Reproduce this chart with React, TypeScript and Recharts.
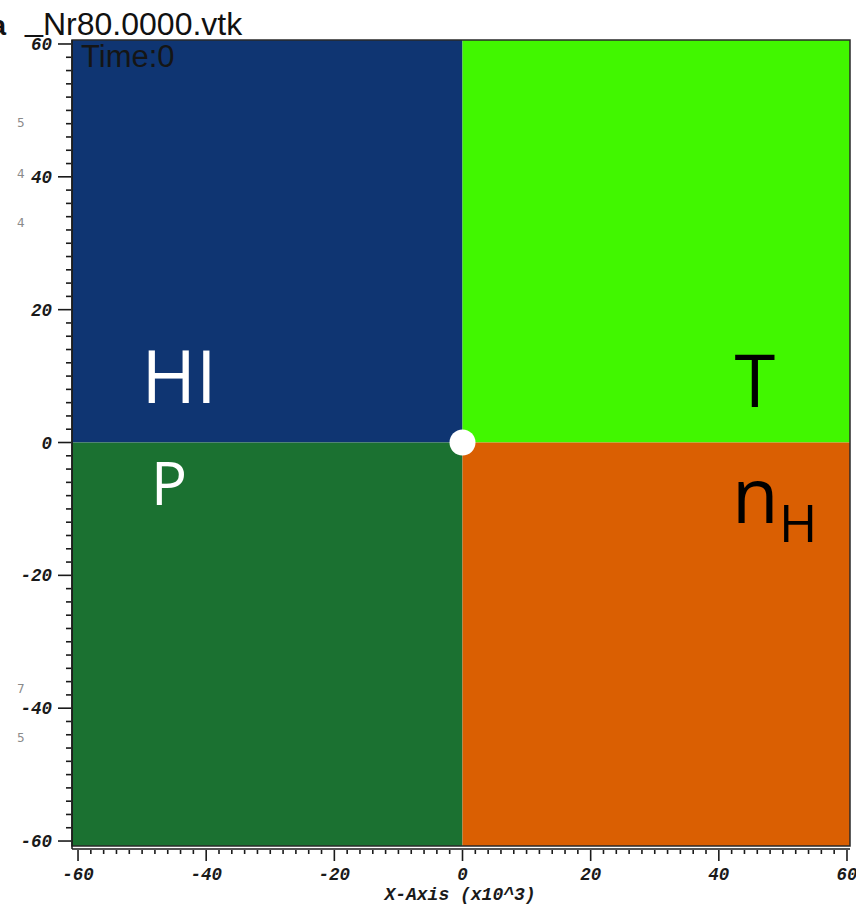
import React from 'react';
import { ComposedChart, XAxis, YAxis, ReferenceArea, Scatter } from 'recharts';

const xDomain: [number, number] = [-60.94, 60.47];
const yDomain: [number, number] = [-61.2, 60.6];
const dataTop = 60.6;
const dataBottom = -60.75;

const majorTicks = [-60, -40, -20, 0, 20, 40, 60];
const allTicks = [
  -60, -58, -56, -54, -52, -50, -48, -46, -44, -42,
  -40, -38, -36, -34, -32, -30, -28, -26, -24, -22,
  -20, -18, -16, -14, -12, -10, -8, -6, -4, -2,
  0, 2, 4, 6, 8, 10, 12, 14, 16, 18,
  20, 22, 24, 26, 28, 30, 32, 34, 36, 38,
  40, 42, 44, 46, 48, 50, 52, 54, 56, 58, 60,
];

const quadrants = [
  { name: 'HI', x1: xDomain[0], x2: 0, y1: 0, y2: dataTop, color: '#0f3572' },
  { name: 'T', x1: 0, x2: xDomain[1], y1: 0, y2: dataTop, color: '#41f700' },
  { name: 'P', x1: xDomain[0], x2: 0, y1: dataBottom, y2: 0, color: '#1b7131' },
  { name: 'nH', x1: 0, x2: xDomain[1], y1: dataBottom, y2: 0, color: '#da5f02' },
];

const centerPoint = [{ x: 0, y: 0 }];

const filePrefix = 'a';
const fileSep = '_';
const fileTitle = 'Nr80.0000.vtk';
const timeLabel = 'Time:0';
const xAxisTitle = 'X-Axis (x10^3)';
const ghostDigits = [
  { t: '5', y: 127 },
  { t: '4', y: 178 },
  { t: '4', y: 227 },
  { t: '7', y: 693 },
  { t: '5', y: 742 },
];

const tickFont = "'Liberation Mono', 'DejaVu Sans Mono', monospace";
const titleFont = "'Liberation Sans', Arial, sans-serif";

const YTick = (props: any) => {
  const { x, y, payload } = props;
  const v = payload.value;
  const major = majorTicks.includes(v);
  return (
    <g>
      <line x1={x - (major ? 14 : 6)} x2={x - 1} y1={y} y2={y} stroke="#1a1a1a" strokeWidth={1.6} />
      {major && (
        <text
          x={x - 20}
          y={y}
          dy={6}
          textAnchor="end"
          fontFamily={tickFont}
          fontWeight="bold"
          fontStyle="italic"
          fontSize={17.5}
          fill="#1a1a1a"
        >
          {String(v)}
        </text>
      )}
    </g>
  );
};

const XTick = (props: any) => {
  const { x, y, payload } = props;
  const v = payload.value;
  const major = majorTicks.includes(v);
  return (
    <g>
      <line x1={x} x2={x} y1={y + 1} y2={y + (major ? 12 : 5)} stroke="#1a1a1a" strokeWidth={1.6} />
      {major && (
        <text
          x={x}
          y={y + 31}
          textAnchor="middle"
          fontFamily={tickFont}
          fontWeight="bold"
          fontStyle="italic"
          fontSize={17.5}
          fill="#1a1a1a"
        >
          {String(v)}
        </text>
      )}
    </g>
  );
};

const CenterDot = (props: any) => <circle cx={props.cx} cy={props.cy} r={13} fill="#ffffff" />;

const labelFont = "'Open Sans', 'Noto Sans', sans-serif";

export default function App() {
  return (
    <div style={{ position: 'absolute', left: 0, top: 0, width: 856, height: 906, background: '#fff' }}>
      <ComposedChart
        width={856}
        height={906}
        margin={{ top: 40, right: 6, left: 0, bottom: 0 }}
        data={centerPoint}
      >
        <XAxis
          type="number"
          dataKey="x"
          domain={xDomain}
          allowDataOverflow
          ticks={allTicks}
          interval={0}
          height={57}
          tickSize={0}
          tickMargin={0}
          tickLine={false}
          axisLine={{ stroke: '#1a1a1a', strokeWidth: 1.5 }}
          tick={<XTick />}
        />
        <YAxis
          type="number"
          dataKey="y"
          domain={yDomain}
          allowDataOverflow
          ticks={allTicks}
          interval={0}
          width={72}
          tickSize={0}
          tickMargin={0}
          tickLine={false}
          axisLine={{ stroke: '#1a1a1a', strokeWidth: 1.5 }}
          tick={<YTick />}
        />
        {quadrants.map((q) => (
          <ReferenceArea
            key={q.name}
            x1={q.x1}
            x2={q.x2}
            y1={q.y1}
            y2={q.y2}
            fill={q.color}
            fillOpacity={1}
            stroke="none"
            ifOverflow="extendDomain"
          />
        ))}
        <ReferenceArea
          x1={xDomain[0]}
          x2={xDomain[1]}
          y1={dataBottom}
          y2={dataTop}
          fill="none"
          stroke="#2a2a2a"
          strokeWidth={1.5}
          ifOverflow="extendDomain"
        />
        <Scatter data={centerPoint} dataKey="y" shape={<CenterDot />} isAnimationActive={false} />
      </ComposedChart>
      <svg
        width={856}
        height={906}
        style={{ position: 'absolute', left: 0, top: 0, pointerEvents: 'none' }}
      >
        <text x={6} y={35} textAnchor="end" fontFamily={titleFont} fontWeight="bold" fontSize={28} fill="#111">{filePrefix}</text>
        <text x={25} y={31} fontFamily={titleFont} fontSize={32} fill="#111" textLength={18} lengthAdjust="spacingAndGlyphs">{fileSep}</text>
        <text x={43} y={35} fontFamily={titleFont} fontSize={32} fill="#111">{fileTitle}</text>
        <text x={81} y={67} fontFamily={titleFont} fontSize={31} fill="#151515">{timeLabel}</text>
        {ghostDigits.map((g, i) => (
          <text key={i} x={17} y={g.y} fontFamily="'DejaVu Sans', sans-serif" fontSize={12} fill="#8a8a8a">{g.t}</text>
        ))}
        <text x={179} y={403} textAnchor="middle" fontFamily={labelFont} fontSize={74} fill="#ffffff">HI</text>
        <text x={169} y={505} textAnchor="middle" fontFamily={labelFont} fontSize={60} fill="#ffffff">P</text>
        <text x={755} y={407} textAnchor="middle" fontFamily={labelFont} fontSize={74} fill="#000000">T</text>
        <text x={732} y={523} fontFamily={labelFont} fontSize={76} fill="#000000">n</text>
        <text x={779} y={542} fontFamily={labelFont} fontSize={52} fill="#000000">H</text>
        <text
          x={460}
          y={900}
          textAnchor="middle"
          fontFamily={tickFont}
          fontWeight="bold"
          fontStyle="italic"
          fontSize={18}
          fill="#1a1a1a"
        >
          {xAxisTitle}
        </text>
      </svg>
    </div>
  );
}
